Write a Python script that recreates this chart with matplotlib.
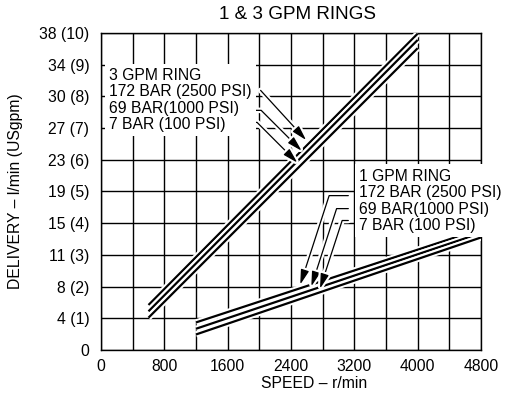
import numpy as np
import matplotlib
matplotlib.use('Agg')
import matplotlib.pyplot as plt
import matplotlib.patheffects as pe

plt.rcParams['font.family'] = ['Liberation Sans', 'DejaVu Sans']
plt.rcParams['font.size'] = 11.3

#> Data (delivery in USgpm)
speed3 = [600, 4000]
ring3_172 = [1.42, 9.98]
ring3_69 = [1.22, 9.78]
ring3_7 = [1.02, 9.52]

speed1 = [1200, 4800]
ring1_172 = [0.87, 3.82]
ring1_69 = [0.67, 3.69]
ring1_7 = [0.49, 3.55]

gpmTicks = list(range(11))
lpmLabels = [0, 4, 8, 11, 15, 19, 23, 27, 30, 34, 38]
speedTicks = list(range(0, 4801, 800))
pressureLabels = ['172 BAR (2500 PSI)', '69 BAR(1000 PSI)', '7 BAR (100 PSI)']

# where the leader arrows hit the lines (r/min) and where the leaders start
tips3 = [2627, 2573, 2518]
leadStart3 = [(2016, 8.19), (1852, 7.56), (1613, 7.18)]
tips1 = [2500, 2640, 2750]
leadStart1 = [(3124, 4.87), (3124, 4.46), (3124, 4.085)]

fig = plt.figure(figsize=(5.11, 3.93), dpi=100)
ax = fig.add_axes([101 / 511, 1 - 350 / 393, 380 / 511, 317 / 393])

halo = [pe.Stroke(linewidth=4.5, foreground='white'), pe.Normal()]
for ys in (ring3_172, ring3_69, ring3_7):
    ax.plot(speed3, ys, color='black', lw=1.6, solid_capstyle='butt', path_effects=halo, zorder=3)
for ys in (ring1_172, ring1_69, ring1_7):
    ax.plot(speed1, ys, color='black', lw=1.6, solid_capstyle='butt', path_effects=halo, zorder=3)

ax.set_xlim(0, 4800)
ax.set_ylim(0, 10)
ax.set_xticks(speedTicks)
ax.set_xticks(range(0, 4801, 400), minor=True)
ax.set_yticks(gpmTicks)
ax.set_yticklabels(['0'] + [f'{l} ({g})' for l, g in zip(lpmLabels[1:], gpmTicks[1:])])
ax.tick_params(axis='both', which='both', length=0)
ax.tick_params(axis='x', pad=6.5)
ax.tick_params(axis='y', pad=8.5)
ax.grid(True, which='both', color='black', lw=1.0)
for s in ax.spines.values():
    s.set_linewidth(1.0)

ax.set_title('1 & 3 GPM RINGS', x=0.516, pad=10)
ax.set_xlabel('SPEED – r/min')
ax.xaxis.set_label_coords(0.56, -0.082)
ax.set_ylabel('DELIVERY – l/min (USgpm)')
ax.yaxis.set_label_coords(-0.205, 0.5)

lineHalo = [pe.Stroke(linewidth=4, foreground='white'), pe.Normal()]
arrowStyle = '-|>,head_length=0.8,head_width=0.22'

# 3 GPM ring labels
ax.text(101, 8.9, '3 GPM RING\n' + '\n'.join(pressureLabels), va='top', ha='left',
        linespacing=1.12, zorder=5, bbox=dict(facecolor='white', edgecolor='none', pad=3))
for i, ys in enumerate((ring3_172, ring3_69, ring3_7)):
    tipY = np.interp(tips3[i], speed3, ys)
    conn = 'arc3' if i == 0 else 'angle,angleA=0,angleB=135,rad=0'
    ax.annotate('', xy=(tips3[i], tipY), xytext=leadStart3[i],
                arrowprops=dict(arrowstyle=arrowStyle, color='black', lw=0.9,
                                connectionstyle=conn, shrinkA=0, shrinkB=3,
                                path_effects=lineHalo), zorder=4)

# 1 GPM ring labels
ax.text(3263, 5.72, '1 GPM RING\n' + '\n'.join(pressureLabels), va='top', ha='left',
        linespacing=1.12, zorder=5, bbox=dict(facecolor='white', edgecolor='none', pad=3))
for i, ys in enumerate((ring1_172, ring1_69, ring1_7)):
    tipY = np.interp(tips1[i], speed1, ys)
    ax.annotate('', xy=(tips1[i], tipY), xytext=leadStart1[i],
                arrowprops=dict(arrowstyle=arrowStyle, color='black', lw=0.9,
                                connectionstyle='angle,angleA=0,angleB=72,rad=0',
                                shrinkA=0, shrinkB=3, path_effects=lineHalo), zorder=4)

fig.savefig('out.png', dpi=100)
